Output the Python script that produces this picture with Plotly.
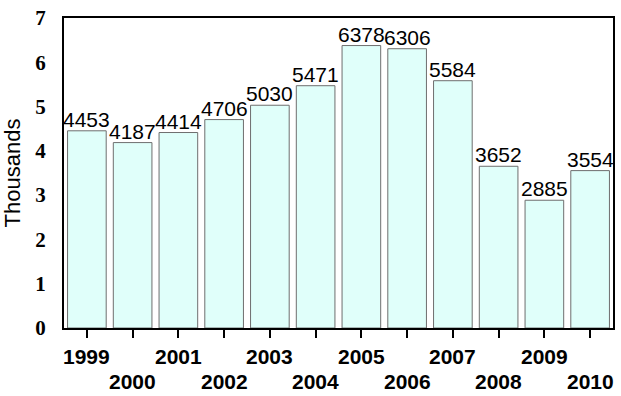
import plotly.graph_objects as go

# Annual totals by year
years = [1999, 2000, 2001, 2002, 2003, 2004, 2005, 2006, 2007, 2008, 2009, 2010]
values = [4453, 4187, 4414, 4706, 5030, 5471, 6378, 6306, 5584, 3652, 2885, 3554]
y_ticks = [0, 1, 2, 3, 4, 5, 6, 7]

fig = go.Figure()
fig.add_trace(go.Bar(
    x=years,
    y=[v / 1000 for v in values],
    width=0.845,
    marker=dict(color="#e0fffa", line=dict(color="#6e6e6e", width=1)),
    hoverinfo="skip",
))

annotations = []
# Value labels just above each bar
for yr, v in zip(years, values):
    annotations.append(dict(
        x=yr, xref="x", y=v / 1000, yref="y",
        text=str(v), showarrow=False,
        yanchor="bottom", yshift=-2,
        font=dict(family="Liberation Sans, Arial", size=21, color="black"),
    ))

# Year labels staggered over two rows below the axis
for i, yr in enumerate(years):
    annotations.append(dict(
        x=yr, xref="x", y=0, yref="paper",
        text=f"<b>{yr}</b>", showarrow=False,
        yanchor="middle", yshift=-28 if i % 2 == 0 else -53,
        font=dict(family="Liberation Sans, Arial", size=21, color="black"),
    ))

fig.update_layout(
    width=621, height=396,
    margin=dict(l=64, r=6, t=13, b=68),
    paper_bgcolor="white", plot_bgcolor="white",
    showlegend=False,
    annotations=annotations,
    xaxis=dict(
        range=[years[0] - 0.5, years[-1] + 0.5],
        tickmode="array", tickvals=years, showticklabels=False,
        ticks="outside", ticklen=8, tickwidth=2, tickcolor="black",
        showline=True, linewidth=2, linecolor="black", mirror=True,
        showgrid=False, zeroline=False, fixedrange=True,
    ),
    yaxis=dict(
        range=[0, 7], tickmode="array", tickvals=y_ticks,
        ticktext=[f"<b>{t}</b>" for t in y_ticks],
        tickfont=dict(family="Liberation Serif, Times New Roman", size=21, color="black"),
        ticks="", ticklabelstandoff=12,
        showline=True, linewidth=2, linecolor="black", mirror=True,
        showgrid=False, zeroline=False, fixedrange=True,
        title=dict(text="Thousands", standoff=12,
                   font=dict(family="Liberation Sans, Arial", size=22, color="black")),
    ),
)

fig.write_html("out.html")
